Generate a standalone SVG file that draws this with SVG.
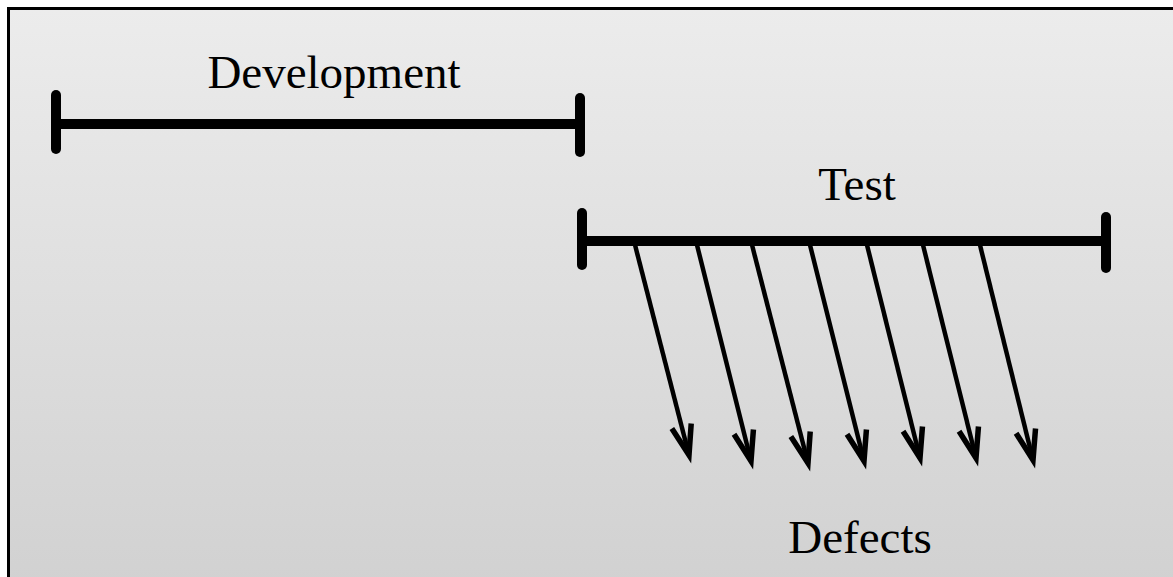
<svg xmlns="http://www.w3.org/2000/svg" width="1173" height="577" viewBox="0 0 1173 577">
<style>
.bar{stroke:#000;stroke-width:10;stroke-linecap:round;fill:none}
.lbl{font-family:"Liberation Serif","Times New Roman",serif;font-size:47px;fill:#000;text-anchor:middle}
.arr{stroke:#000;stroke-width:4.5;fill:none;marker-end:url(#ah)}
</style>
<defs>
<linearGradient id="bg" x1="0" y1="0" x2="0" y2="1">
<stop offset="0" stop-color="#ececec"/>
<stop offset="1" stop-color="#d0d0d0"/>
</linearGradient>
<marker id="ah" markerUnits="userSpaceOnUse" markerWidth="60" markerHeight="60" refX="0" refY="0" orient="auto" overflow="visible">
<path d="M-30,-10 L0,0 L-30,10" fill="none" stroke="#000" stroke-width="5.5" stroke-linejoin="miter" stroke-miterlimit="10"/>
</marker>
</defs>
<rect width="1173" height="577" fill="#fff"/>
<rect x="8.5" y="8.5" width="1200" height="600" fill="url(#bg)" stroke="#000" stroke-width="3"/>
<g id="development">
<line class="bar" x1="56" y1="124" x2="580" y2="124" stroke-linecap="butt"/>
<line class="bar" x1="56" y1="95" x2="56" y2="149"/>
<line class="bar" x1="580" y1="98" x2="580" y2="152"/>
<text class="lbl" x="334" y="88">Development</text>
</g>
<g id="test">
<line class="bar" x1="582" y1="241" x2="1106" y2="241" stroke-linecap="butt"/>
<line class="bar" x1="582" y1="213" x2="582" y2="265"/>
<line class="bar" x1="1106" y1="217" x2="1106" y2="268"/>
<text class="lbl" x="857" y="200">Test</text>
</g>
<g id="defects">
<text class="lbl" x="860" y="553">Defects</text>
</g>
<g id="connectors">
<line class="arr" x1="634" y1="241" x2="689" y2="455"/>
<line class="arr" x1="696" y1="241" x2="751" y2="461"/>
<line class="arr" x1="751" y1="241" x2="808" y2="463"/>
<line class="arr" x1="809" y1="241" x2="864" y2="461"/>
<line class="arr" x1="866" y1="241" x2="920" y2="458"/>
<line class="arr" x1="922" y1="241" x2="976" y2="458"/>
<line class="arr" x1="979" y1="241" x2="1033" y2="460"/>
</g>
</svg>
